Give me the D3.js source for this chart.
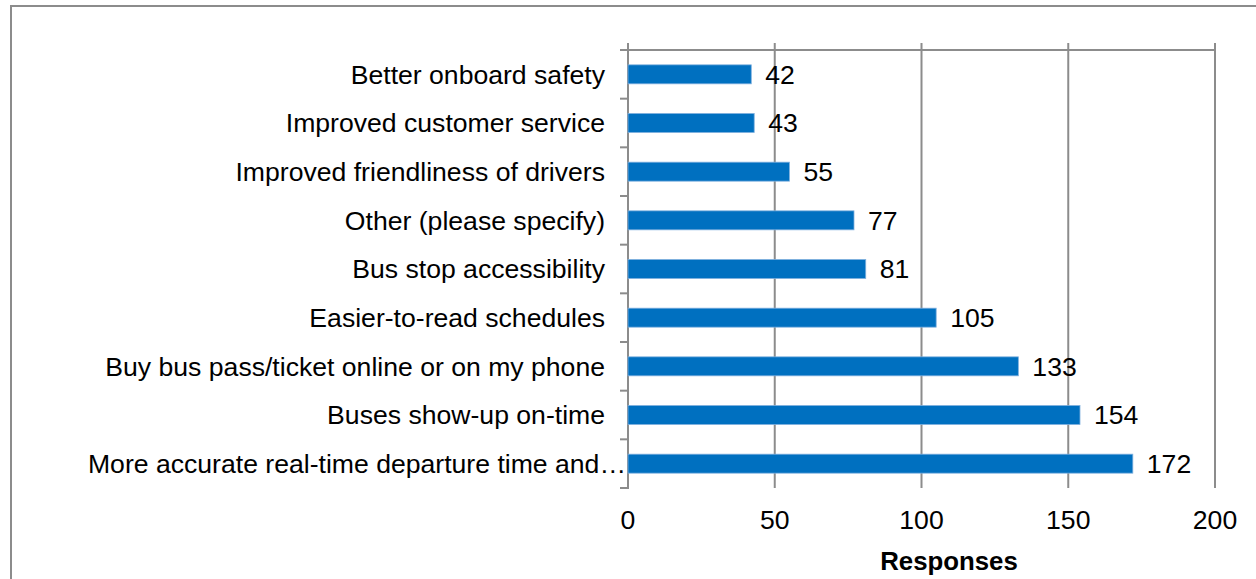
<!DOCTYPE html>
<html>
<head>
<meta charset="utf-8">
<script src="https://cdn.jsdelivr.net/npm/d3@7"></script>
<style>
  html, body { margin: 0; padding: 0; background: #fff; }
  svg { display: block; font-family: "Liberation Sans", Arial, sans-serif; }
</style>
</head>
<body>
<svg id="chart" width="1256" height="579"></svg>
<script>
const categories = [
  "Better onboard safety",
  "Improved customer service",
  "Improved friendliness of drivers",
  "Other (please specify)",
  "Bus stop accessibility",
  "Easier-to-read schedules",
  "Buy bus pass/ticket online or on my phone",
  "Buses show-up on-time",
  "More accurate real-time departure time and\u2026"
];
const values = [42, 43, 55, 77, 81, 105, 133, 154, 172];
const xTicks = [0, 50, 100, 150, 200];
const xTitle = "Responses";

(function () {
const svg = d3.select("#chart");
const W = 1256, H = 579;
const pLeft = 628, pRight = 1215, pTop = 50, pBottom = 488;
const gridColor = "#8c8c8c";
const fontSize = 26.6;

svg.append("rect")
  .attr("x", 11).attr("y", 6)
  .attr("width", W + 20).attr("height", H + 20)
  .attr("fill", "none").attr("stroke", gridColor).attr("stroke-width", 2);

const x = d3.scaleLinear().domain([0, 200]).range([pLeft, pRight]);
const y = d3.scaleBand().domain(categories).range([pTop, pBottom])
  .paddingInner(0.61).paddingOuter(0.305);

svg.append("g").selectAll("line").data(xTicks.slice(1)).join("line")
  .attr("x1", d => x(d)).attr("x2", d => x(d))
  .attr("y1", pTop - 7).attr("y2", pBottom)
  .attr("stroke", gridColor).attr("stroke-width", 2);

svg.append("line")
  .attr("x1", pLeft - 8).attr("x2", pRight + 1)
  .attr("y1", pTop).attr("y2", pTop)
  .attr("stroke", gridColor).attr("stroke-width", 2);

svg.append("line")
  .attr("x1", pLeft).attr("x2", pLeft)
  .attr("y1", pTop - 7).attr("y2", pBottom + 1)
  .attr("stroke", gridColor).attr("stroke-width", 2);

const boundaries = d3.range(categories.length + 1).map(i => pTop + i * (pBottom - pTop) / categories.length);
svg.append("g").selectAll("line").data(boundaries).join("line")
  .attr("x1", pLeft - 8).attr("x2", pLeft)
  .attr("y1", d => d).attr("y2", d => d)
  .attr("stroke", gridColor).attr("stroke-width", 2);

svg.append("g").selectAll("rect").data(values).join("rect")
  .attr("x", x(0))
  .attr("y", (d, i) => y(categories[i]))
  .attr("width", d => x(d) - x(0))
  .attr("height", y.bandwidth())
  .attr("fill", "#0070C0")
  .attr("stroke", "#7fb0de").attr("stroke-width", 0.8);

svg.append("g").selectAll("text").data(values).join("text")
  .attr("x", d => x(d) + 14)
  .attr("y", (d, i) => y(categories[i]) + y.bandwidth() / 2)
  .attr("dy", "0.35em")
  .attr("font-size", fontSize)
  .attr("fill", "#000")
  .text(d => d);

svg.append("g").selectAll("text").data(categories).join("text")
  .attr("x", d => d.endsWith("\u2026") ? pLeft - 2 : pLeft - 23)
  .attr("y", d => y(d) + y.bandwidth() / 2)
  .attr("dy", "0.35em")
  .attr("text-anchor", "end")
  .attr("font-size", fontSize)
  .attr("fill", "#000")
  .text(d => d);

svg.append("g").selectAll("text").data(xTicks).join("text")
  .attr("x", d => x(d))
  .attr("y", pBottom + 41)
  .attr("text-anchor", "middle")
  .attr("font-size", fontSize)
  .attr("fill", "#000")
  .text(d => d);

svg.append("text")
  .attr("x", 949).attr("y", 570)
  .attr("text-anchor", "middle")
  .attr("font-size", 25.8)
  .attr("font-weight", "bold")
  .attr("fill", "#000")
  .text(xTitle);
})();
</script>
</body>
</html>
